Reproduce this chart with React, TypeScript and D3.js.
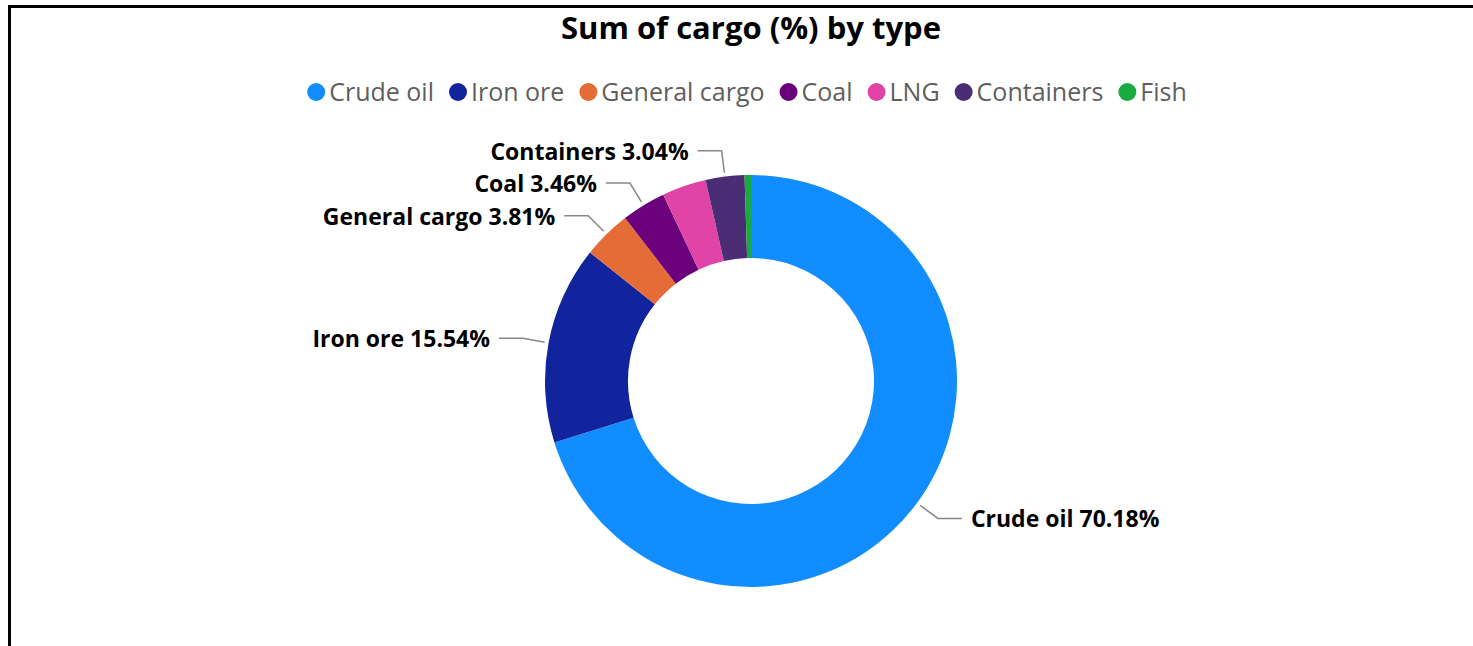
import React, { useRef, useEffect } from "react";
import * as d3 from "d3";

// cargo types and their share (%)
const cargoTypes = ["Crude oil", "Iron ore", "General cargo", "Coal", "LNG", "Containers", "Fish"];
const cargoShares = [70.18, 15.54, 3.81, 3.46, 3.47, 3.04, 0.5];
const cargoColors = ["#118DFF", "#12239E", "#E66C37", "#6B007B", "#E044A7", "#4A2D75", "#1AAB40"];
// only these slices get an outside label
const labelledTypes = ["Crude oil", "Iron ore", "General cargo", "Coal", "Containers"];

const chartTitle = "Sum of cargo (%) by type";

const App = () => {
  const svgRef = useRef(null);

  useEffect(() => {
    const width = 1473;
    const height = 646;
    const cx = 751;
    const cy = 381;
    const outerR = 206;
    const innerR = 123;
    const font = "'Open Sans', 'Noto Sans', sans-serif";

    const svg = d3.select(svgRef.current);
    svg.selectAll("*").remove();
    svg.attr("width", width).attr("height", height);

    // frame around the visual
    svg.append("rect")
      .attr("x", 9.5)
      .attr("y", 6.5)
      .attr("width", 1500)
      .attr("height", 700)
      .attr("fill", "none")
      .attr("stroke", "#000")
      .attr("stroke-width", 3);

    /*** Title ***/
    svg.append("text")
      .attr("x", cx)
      .attr("y", 39)
      .attr("text-anchor", "middle")
      .style("font-family", font)
      .style("font-weight", "bold")
      .style("font-size", "31px")
      .attr("fill", "#000")
      .text(chartTitle);

    /*** Legend ***/
    const data = cargoTypes.map((t, i) => ({ type: t, value: cargoShares[i], color: cargoColors[i] }));
    const legend = svg.append("g");
    const dotR = 9;
    let xPos = 0;
    data.forEach((d) => {
      const item = legend.append("g").attr("transform", `translate(${xPos},0)`);
      item.append("circle")
        .attr("cx", dotR)
        .attr("cy", 0)
        .attr("r", dotR)
        .attr("fill", d.color);
      const txt = item.append("text")
        .attr("x", dotR * 2 + 4)
        .attr("y", 9)
        .style("font-family", font)
        .style("font-size", "25px")
        .attr("fill", "#605E5C")
        .text(d.type);
      const w = txt.node().getComputedTextLength();
      xPos += dotR * 2 + 4 + w + 15;
    });
    const legendW = xPos - 15;
    legend.attr("transform", `translate(${747 - legendW / 2}, 92)`);

    /*** Donut ***/
    const pie = d3.pie().value(d => d.value).sort(null);
    const arcs = pie(data);
    const arc = d3.arc().innerRadius(innerR).outerRadius(outerR);

    const g = svg.append("g").attr("transform", `translate(${cx},${cy})`);
    g.selectAll("path.slice")
      .data(arcs)
      .enter()
      .append("path")
      .attr("class", "slice")
      .attr("d", arc)
      .attr("fill", d => d.data.color);

    // leader lines + labels
    const lineStart = d3.arc().innerRadius(outerR + 4).outerRadius(outerR + 4);
    const lineBend = d3.arc().innerRadius(outerR + 26).outerRadius(outerR + 26);
    const labelled = arcs.filter(d => labelledTypes.includes(d.data.type));

    labelled.forEach((d) => {
      const mid = (d.startAngle + d.endAngle) / 2;
      const a = lineStart.centroid(d);
      const b = lineBend.centroid(d);
      const right = Math.sin(mid) > 0;
      const c = [b[0] + (right ? 24 : -24), b[1]];
      g.append("polyline")
        .attr("points", [a, b, c].map(p => p.join(",")).join(" "))
        .attr("fill", "none")
        .attr("stroke", "#8A8886")
        .attr("stroke-width", 1.5);
      g.append("text")
        .attr("x", c[0] + (right ? 9 : -9))
        .attr("y", c[1] + 9)
        .attr("text-anchor", right ? "start" : "end")
        .style("font-family", font)
        .style("font-weight", "bold")
        .style("font-size", "23px")
        .attr("fill", "#000")
        .text(`${d.data.type} ${d3.format(".2f")(d.data.value)}%`);
    });
  }, []);

  return (
    <svg
      ref={svgRef}
      style={{ position: "absolute", left: 0, top: 0, display: "block", background: "#fff" }}
    ></svg>
  );
};

export default App;
